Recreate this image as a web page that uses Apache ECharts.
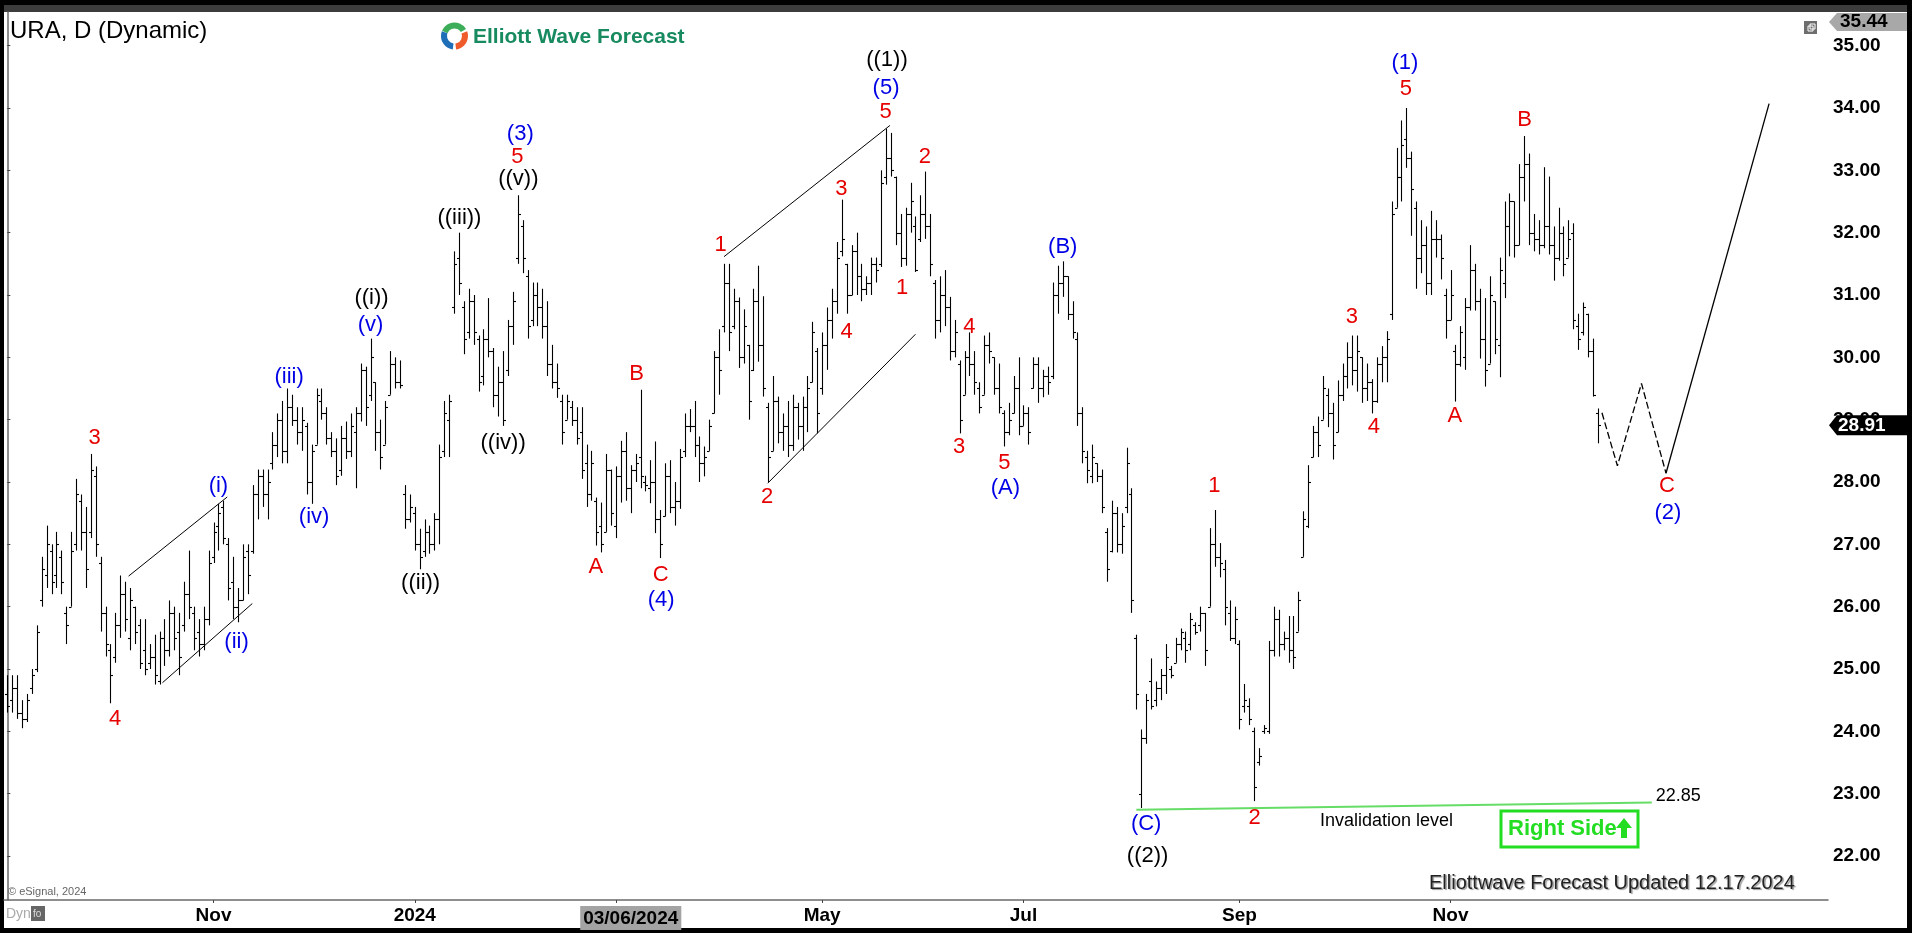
<!DOCTYPE html>
<html>
<head>
<meta charset="utf-8">
<script src="https://cdn.jsdelivr.net/npm/echarts@6/dist/echarts.min.js"></script>
<style>
html,body{margin:0;padding:0;background:#000;}
#c{width:1912px;height:933px;}
</style>
</head>
<body>
<div id="c"></div>
<script>
// ---------- DATA ----------
const startDate = '2023-09-01';
const endDate = '2024-12-16';
const holidays = ['2023-09-04','2023-11-23','2023-12-25','2024-01-01','2024-01-15','2024-02-19','2024-03-29','2024-05-27','2024-06-19','2024-07-04','2024-09-02','2024-11-28'];

const opens = [24.6,24.5,24.7,24.3,24.2,24.7,25.0,26.1,26.5,26.9,26.5,26.8,25.9,26.0,27.0,27.7,27.2,27.2,28.1,26.7,
25.9,25.3,25.2,25.7,26.2,25.5,26.0,25.7,25.3,25.1,25.2,24.8,25.5,25.3,25.9,25.6,25.7,26.2,25.9,25.6,25.4,25.8,
26.8,27.3,27.6,27.0,26.4,26.0,26.1,26.9,26.9,27.8,28.1,27.8,28.3,28.6,29.0,28.5,29.2,29.0,28.8,28.9,28.0,
28.6,29.3,29.1,28.7,28.5,28.2,28.7,28.5,28.8,29.1,29.8,29.4,29.6,28.8,28.6,29.4,29.9,29.6,27.8,27.4,
27.5,27.0,26.9,27.2,27.0,27.4,28.5,29.0,30.8,31.6,30.8,30.4,30.9,30.3,29.7,30.3,30.1,29.4,29.6,29.8,30.5,
31.6,32.1,31.3,30.6,31.0,30.8,30.5,29.9,29.6,29.3,29.0,29.2,29.0,28.8,28.3,27.8,27.7,27.3,27.2,28.2,
27.3,28.1,28.5,27.9,28.2,28.4,28.0,27.9,28.0,27.4,27.45,28.1,27.6,27.7,28.5,28.9,28.9,28.6,28.3,28.5,
29.1,30.0,30.5,31.2,30.5,30.9,30.0,30.2,29.8,30.9,30.2,29.2,28.5,29.3,28.8,28.9,28.6,29.2,28.9,29.2,29.6,30.1,
29.5,30.2,30.6,30.9,31.7,31.5,31.0,31.7,31.3,31.1,31.2,31.5,31.5,32.9,33.2,32.9,32.0,31.6,32.3,32.1,31.9,32.3,
32.1,31.2,30.6,31.0,30.8,30.1,29.9,29.4,30.0,29.9,29.5,29.4,30.2,30.0,29.5,29.1,28.8,29.1,29.5,
28.9,29.1,29.5,29.9,29.5,29.7,29.7,31.0,31.2,31.3,30.7,30.3,29.1,28.4,28.1,28.3,28.1,27.2,26.9,27.5,27.0,27.6,
27.8,25.5,23.0,23.9,24.8,24.5,24.7,24.9,25.0,25.1,25.4,25.5,25.4,25.7,25.7,25.9,26.0,27.0,26.8,26.6,25.9,25.5,
25.4,24.4,24.4,24.0,23.5,24.0,24.0,25.3,25.8,25.4,25.5,25.3,25.6,26.8,27.3,28.4,28.8,29.0,29.4,29.1,
28.8,29.4,29.7,30.0,29.8,30.0,29.5,29.6,29.3,29.9,30.0,30.7,32.4,32.9,33.5,33.2,32.4,31.6,31.8,31.2,31.9,31.9,31.0,
30.6,30.1,29.9,30.0,30.8,31.4,30.9,30.3,29.9,30.9,30.2,31.2,32.1,32.5,31.8,32.9,33.1,32.0,31.9,31.8,
32.1,31.8,31.6,32.0,31.6,32.0,30.5,30.4,30.7,30.1,29.1];

const highs = [24.9,24.9,24.9,24.5,24.6,25.0,25.7,26.8,27.3,27.0,27.2,26.9,26.0,27.2,28.05,27.8,27.6,28.45,28.25,26.8,
26.0,25.4,25.9,26.5,26.4,26.3,26.0,25.8,25.8,25.4,25.55,25.6,25.8,26.1,26.0,25.9,26.4,26.9,26.0,25.8,26.0,26.9,
27.35,27.65,27.7,27.1,26.8,26.3,27.0,27.0,27.95,28.2,28.2,28.2,28.8,29.1,29.3,29.5,29.4,29.2,29.2,28.95,28.6,
29.5,29.5,29.2,28.8,28.7,28.9,28.97,29.1,29.2,29.9,29.85,30.3,29.6,29.0,29.3,30.1,30.0,29.95,27.95,27.8,
27.6,27.25,27.4,27.3,27.5,28.6,29.3,29.4,31.7,32.0,30.9,31.1,31.0,30.35,30.45,30.95,30.15,29.85,30.1,30.6,31.05,
32.6,32.2,31.4,31.2,31.2,31.1,30.9,30.2,29.9,29.4,29.4,29.3,29.2,29.2,28.6,28.5,27.75,27.67,28.45,28.2,
28.25,28.66,28.8,28.27,28.45,29.48,28.1,28.35,28.65,27.55,28.3,28.35,28.0,28.53,29.1,29.17,29.3,28.73,28.57,29.0,
30.1,30.45,31.5,31.5,31.1,30.96,30.77,30.2,31.1,31.47,30.98,29.27,29.7,29.37,29.1,29.3,29.4,29.27,29.37,29.7,30.57,30.15,
30.4,30.8,31.1,31.85,32.53,31.5,31.8,32.0,31.5,31.3,31.6,31.6,33.0,33.67,33.6,32.9,32.3,32.4,32.8,32.26,32.6,32.98,
32.3,31.24,31.3,31.4,30.97,30.6,29.95,30.1,30.4,30.1,29.6,30.35,30.4,30.0,29.9,29.15,29.27,29.7,30.0,
29.23,29.2,30.0,30.0,29.8,29.85,31.2,31.47,31.54,31.3,30.9,30.4,29.2,28.5,28.6,28.3,28.2,27.26,27.7,27.6,27.5,28.55,
27.9,25.55,24.03,24.6,25.17,24.8,25.0,25.4,25.05,25.5,25.65,25.6,25.9,25.75,26.0,25.9,27.26,27.55,27.02,26.75,26.1,26.0,
25.46,24.76,24.53,24.06,23.73,24.1,25.45,26.0,25.95,25.6,25.85,25.85,26.24,27.53,28.27,28.9,29.05,29.7,29.5,29.27,
29.63,29.9,30.24,30.35,30.35,30.0,29.9,29.65,30.0,30.18,30.42,32.5,33.36,33.8,34.0,33.3,32.5,32.2,32.1,32.35,32.2,31.97,31.1,
31.4,30.2,30.5,30.95,31.8,31.5,31.1,30.95,31.3,30.9,31.6,32.5,32.63,32.5,33.1,33.55,33.27,32.3,32.2,33.05,
32.9,32.1,32.4,32.1,32.2,32.15,30.7,30.88,30.7,30.3,29.18];

const lows = [24.3,24.3,24.2,24.05,24.15,24.6,24.95,26.0,26.3,26.2,26.3,26.2,25.4,26.0,26.9,26.9,26.3,27.1,26.8,25.6,
25.2,24.45,25.1,25.5,25.6,25.3,25.4,25.0,24.9,25.0,24.75,24.75,25.05,25.2,25.3,24.9,25.6,25.8,25.3,25.2,25.3,25.7,
26.7,26.9,27.0,26.1,25.8,25.75,26.1,26.2,26.85,27.4,27.6,27.4,28.2,28.4,28.3,28.3,28.9,28.6,28.5,27.8,27.65,
28.6,29.0,28.6,28.4,27.95,28.1,28.37,28.4,27.9,28.97,28.9,29.3,28.5,28.2,28.6,29.4,29.5,29.5,27.25,27.35,
26.9,26.6,26.8,26.85,26.9,27.0,28.4,28.4,30.7,31.0,30.05,30.3,30.2,29.45,29.55,30.0,29.2,29.05,28.9,29.7,30.2,
31.5,31.35,30.3,30.5,30.5,30.3,29.7,29.5,29.35,28.6,29.0,28.9,28.6,28.05,27.6,27.7,26.98,26.87,27.2,27.3,
27.1,27.67,27.7,27.5,28.0,27.9,27.85,27.66,27.18,26.78,27.45,27.5,27.3,27.57,28.4,28.8,28.4,28.0,28.09,28.5,
29.1,29.4,30.4,30.1,30.45,29.83,29.9,29.0,29.78,29.93,29.37,28.0,28.5,28.62,28.5,28.4,28.5,28.68,28.5,28.8,29.6,28.78,
29.4,29.8,30.3,30.7,31.62,30.7,31.0,31.0,30.9,31.0,31.0,31.2,31.45,32.77,32.9,31.8,31.45,31.47,32.0,31.37,31.85,31.9,
31.3,30.3,30.4,30.5,29.95,30.0,28.78,29.4,29.7,29.4,29.1,29.4,29.9,29.4,29.1,28.57,28.75,29.1,28.75,
28.9,28.6,29.5,29.27,29.36,29.4,29.65,30.7,30.97,30.6,30.3,28.9,28.3,27.98,27.98,28.0,27.5,26.4,26.87,26.87,26.85,27.5,
25.9,24.35,22.77,23.8,24.35,24.4,24.5,24.6,24.85,25.1,25.3,25.1,25.3,25.55,25.6,25.05,26.0,26.64,26.47,25.7,25.45,25.4,
24.03,24.3,24.1,22.88,23.45,23.96,23.96,25.2,25.2,25.3,25.1,25.0,25.6,26.8,27.26,28.4,28.4,29.0,28.88,28.36,
28.8,29.3,29.5,29.55,29.45,29.27,29.3,29.1,29.27,29.6,29.6,30.6,32.4,32.5,33.04,31.95,31.1,31.35,31.0,31.0,31.6,31.25,30.3,
30.6,29.29,29.85,29.8,30.75,30.75,29.98,29.53,29.9,30.05,29.68,30.95,31.62,31.6,31.8,32.5,31.8,31.7,31.65,31.75,
31.65,31.23,31.55,31.3,31.6,30.45,30.12,30.35,30.0,29.37,28.62];

const closes = [24.4,24.7,24.3,24.2,24.5,24.9,25.6,26.6,27.0,26.4,27.0,26.4,25.7,26.9,27.8,27.2,26.6,28.2,27.0,25.9,
25.4,24.9,25.7,26.2,25.8,26.1,25.6,25.1,25.0,25.2,24.9,25.5,25.3,25.9,25.5,25.2,26.2,26.0,25.5,25.4,25.8,26.7,
27.2,27.5,27.1,26.3,26.0,26.1,26.8,26.5,27.8,28.1,27.8,28.0,28.6,29.0,28.5,29.2,29.0,28.8,29.0,28.0,28.5,
29.4,29.1,28.7,28.5,28.1,28.7,28.5,28.9,29.1,29.8,29.2,30.0,28.8,28.4,29.2,29.9,29.6,29.55,27.4,27.6,
27.0,26.8,27.2,27.0,27.4,28.4,29.1,29.3,31.5,31.2,30.3,30.9,30.4,29.6,30.3,30.1,29.4,29.6,29.0,30.5,30.9,
32.3,31.6,30.5,31.0,30.8,30.5,29.9,29.6,29.5,28.8,29.3,29.0,28.7,28.2,27.8,28.3,27.2,27.0,28.2,27.5,
28.1,28.5,27.9,28.2,28.3,28.1,27.95,28.0,27.4,27.0,28.1,27.6,27.7,28.4,28.9,28.9,28.6,28.3,28.4,28.9,
30.0,29.8,31.2,30.4,30.9,30.0,30.5,29.3,30.9,30.2,29.5,28.4,29.3,28.8,28.9,28.6,29.2,28.9,29.2,29.5,30.4,29.1,
30.2,30.6,30.9,31.6,31.9,31.0,31.7,31.3,31.1,31.2,31.5,31.4,32.8,33.2,33.0,32.0,31.6,32.3,32.5,31.4,32.3,32.1,
31.5,30.6,31.0,30.8,30.1,30.4,29.0,30.0,29.9,29.6,29.2,30.2,30.1,29.5,29.2,28.8,29.0,29.5,28.9,
29.1,28.8,29.9,29.5,29.7,29.6,31.0,31.2,31.3,30.7,30.4,29.1,28.5,28.2,28.4,28.1,27.6,26.6,27.5,27.0,27.3,28.3,
26.1,24.6,23.9,24.5,24.4,24.7,24.9,25.2,24.9,25.4,25.6,25.3,25.8,25.6,25.9,25.3,27.0,26.8,26.7,26.0,25.5,25.8,
24.2,24.5,24.2,23.1,23.6,24.05,25.3,25.8,25.4,25.5,25.3,25.2,26.1,27.4,28.0,28.8,28.6,29.5,29.1,28.6,
29.4,29.7,30.0,29.8,30.1,29.5,29.6,29.3,29.9,30.0,30.3,32.3,32.9,33.4,33.2,32.7,31.6,31.8,31.2,31.9,31.9,31.6,30.6,
31.0,29.9,30.4,30.8,31.4,30.9,30.3,29.8,31.0,30.3,31.4,32.1,32.5,31.8,32.9,33.1,32.0,31.9,31.8,32.1,
31.8,31.6,32.0,31.5,31.9,30.6,30.3,30.8,30.1,29.4,28.91];

// x axis tick labels
const tickLabelDates = ['2023-11-01','2024-01-02','2024-03-06','2024-05-01','2024-07-01','2024-09-03','2024-11-01'];
const tickLabelTexts = ['Nov','2024','03/06/2024','May','Jul','Sep','Nov'];
const tickMarkDates = ['2023-11-01','2024-01-02','2024-03-01','2024-05-01','2024-07-01','2024-09-03','2024-11-01'];
const priceTicks = [22,23,24,25,26,27,28,29,30,31,32,33,34,35];

// wave labels: [barIndex, price, text, colour]
const waveLabels = [
 [17.8,28.70,'3','r'],[21.95,24.20,'4','r'],
 [43.0,27.94,'(i)','b'],[46.7,25.44,'(ii)','b'],[57.4,29.68,'(iii)','b'],[62.5,27.44,'(iv)','b'],[74.0,30.52,'(v)','b'],
 [74.2,30.95,'((i))','k'],[84.2,26.38,'((ii))','k'],[92.1,32.23,'((iii))','k'],[101.0,28.63,'((iv))','k'],
 [104.5,33.59,'(3)','b'],[103.9,33.22,'5','r'],[104.1,32.86,'((v))','k'],
 [119.9,26.64,'A','r'],[128.2,29.74,'B','r'],[133.1,26.51,'C','r'],[133.2,26.11,'(4)','b'],
 [145.3,31.80,'1','r'],[154.8,27.76,'2','r'],[169.9,32.70,'3','r'],[171.0,30.40,'4','r'],
 [179.2,34.77,'((1))','k'],[179.0,34.32,'(5)','b'],[178.9,33.93,'5','r'],
 [182.3,31.12,'1','r'],[186.9,33.22,'2','r'],[193.9,28.57,'3','r'],[196.0,30.49,'4','r'],[203.1,28.30,'5','r'],[203.3,27.90,'(A)','b'],
 [215.0,31.77,'(B)','b'],[232.0,22.52,'(C)','b'],[232.3,22.00,'((2))','k'],
 [245.9,27.93,'1','r'],[254.1,22.61,'2','r'],[273.9,30.64,'3','r'],[278.4,28.89,'4','r'],
 [284.7,34.72,'(1)','b'],[284.9,34.30,'5','r'],[294.9,29.06,'A','r'],[309.1,33.81,'B','r'],
 [338.1,27.93,'C','r'],[338.3,27.50,'(2)','b']
];

// trend lines [[x,y],[x,y]]
const wedge1Upper = [[24.7,26.49],[44.8,27.76]];
const wedge1Lower = [[31.6,24.78],[49.9,26.05]];
const wedge2Upper = [[146.0,31.615],[179.8,33.72]];
const wedge2Lower = [[154.9,27.98],[185.0,30.37]];
const forecastDashed = [[324.85,29.11],[328.0,28.26],[332.9,29.58],[337.9,28.14]];
const forecastSolid = [[337.9,28.14],[358.9,34.07]];
const invalidationLine = [[230.0,22.74],[335.0,22.86]];
const invalidationLevel = 22.85;
const lastPrice = 28.91;
const topPrice = 35.44;

// ---------- BUILD ----------
function fmt(d){return d.toISOString().slice(0,10);}
const dates = [];
(function(){
  let d = new Date(startDate+'T00:00:00Z');
  const e = new Date(endDate+'T00:00:00Z');
  while(d<=e){
    const wd = d.getUTCDay();
    const s = fmt(d);
    if(wd!==0 && wd!==6 && holidays.indexOf(s)<0) dates.push(s);
    d = new Date(d.getTime()+86400000);
  }
})();
const ohlc = dates.map((d,i)=>[i, opens[i], highs[i], lows[i], closes[i]]);
const labelIdx = tickLabelDates.map(d=>dates.indexOf(d));
const markIdx = tickMarkDates.map(d=>dates.indexOf(d));

const colourMap = {r:'#e60000', b:'#0000e6', k:'#000000'};
const FONT = '"Liberation Sans", Arial, sans-serif';

const chart = echarts.init(document.getElementById('c'), null, {renderer:'canvas'});

const option = {
  animation:false,
  backgroundColor:'#000',
  grid:{left:4, right:84, top:12, bottom:33, containLabel:false},
  xAxis:{
    type:'value', min:-0.68, max:370.9,
    axisLine:{show:true, onZero:false, lineStyle:{color:'#6a6a6a', width:1.5}},
    axisTick:{show:true, customValues:markIdx, length:3, lineStyle:{color:'#444'}},
    axisLabel:{
      show:true, customValues:labelIdx, margin:6,
      color:'#000', fontSize:19, fontWeight:'bold', fontFamily:FONT,
      formatter:function(v){
        const k = labelIdx.indexOf(Math.round(v));
        if(k<0) return '';
        const t = tickLabelTexts[k];
        if(t.indexOf('/')>=0) return '{hl|'+t+'}';
        return t;
      },
      rich:{hl:{backgroundColor:'#a3a3a3', color:'#000', fontSize:19, fontWeight:'bold', fontFamily:FONT, padding:[3,3,2,3]}}
    },
    splitLine:{show:false}
  },
  yAxis:{
    type:'value', position:'right', min:21.294, max:35.54,
    axisLine:{show:true, lineStyle:{color:'#6a6a6a', width:1.5}},
    axisTick:{show:true, customValues:priceTicks, length:3, lineStyle:{color:'#444'}},
    axisLabel:{show:true, customValues:priceTicks, margin:5, color:'#000', fontSize:19, fontWeight:'bold', fontFamily:FONT,
      formatter:function(v){return v.toFixed(2);}},
    splitLine:{show:false}
  },
  series:[
    {
      type:'custom', name:'URA', silent:true, clip:true,
      encode:{x:0, y:[1,2,3,4]},
      data: ohlc,
      renderItem:function(params, api){
        const x = api.value(0);
        const pO = api.coord([x, api.value(1)]);
        const pH = api.coord([x, api.value(2)]);
        const pL = api.coord([x, api.value(3)]);
        const pC = api.coord([x, api.value(4)]);
        const px = Math.round(pH[0])+0.5;
        const yo = Math.round(pO[1])+0.5, yc = Math.round(pC[1])+0.5;
        const st = {stroke:'#000', lineWidth:1.1};
        return {type:'group', children:[
          {type:'line', shape:{x1:px, y1:pH[1], x2:px, y2:pL[1]}, style:st},
          {type:'line', shape:{x1:px-2.5, y1:yo, x2:px, y2:yo}, style:st},
          {type:'line', shape:{x1:px, y1:yc, x2:px+2.5, y2:yc}, style:st}
        ]};
      }
    },
    {type:'line', data:wedge1Upper, symbol:'none', silent:true, lineStyle:{color:'#000', width:1}},
    {type:'line', data:wedge1Lower, symbol:'none', silent:true, lineStyle:{color:'#000', width:1}},
    {type:'line', data:wedge2Upper, symbol:'none', silent:true, lineStyle:{color:'#000', width:1}},
    {type:'line', data:wedge2Lower, symbol:'none', silent:true, lineStyle:{color:'#000', width:1}},
    {type:'line', data:forecastDashed, symbol:'none', silent:true, lineStyle:{color:'#000', width:1.3, type:[7,3]}},
    {type:'line', data:forecastSolid, symbol:'none', silent:true, lineStyle:{color:'#000', width:1.3}},
    {type:'line', data:invalidationLine, symbol:'none', silent:true, lineStyle:{color:'#66dd66', width:2}},
    {
      type:'custom', silent:true, clip:false,
      data: waveLabels.map(l=>[l[0], l[1]]),
      renderItem:function(params, api){
        const L = waveLabels[params.dataIndex];
        const p = api.coord([L[0], L[1]]);
        return {type:'text', x:p[0], y:p[1], style:{text:L[2], fill:colourMap[L[3]], fontSize:22, fontFamily:FONT, align:'center', verticalAlign:'middle'}};
      }
    },
    {
      type:'custom', silent:true, clip:false,
      data:[[invalidationLine[1][0], invalidationLevel]],
      renderItem:function(params, api){
        const p = api.coord([api.value(0), api.value(1)]);
        return {type:'text', x:p[0]+4, y:p[1]-7, style:{text:invalidationLevel.toFixed(2), fill:'#000', fontSize:18, fontFamily:FONT, align:'left', verticalAlign:'middle'}};
      }
    }
  ]
};
chart.setOption(option);

const yLast = chart.convertToPixel({yAxisIndex:0}, lastPrice);
const yTop = Math.max(chart.convertToPixel({yAxisIndex:0}, topPrice), 22);

chart.setOption({graphic:[
  // frame
  {type:'rect', shape:{x:4, y:12, width:1903, height:916}, style:{fill:'#fff'}, z:-10, silent:true},
  {type:'rect', shape:{x:4, y:5, width:1903, height:7}, style:{fill:'#3c3c3c'}, z:-10, silent:true},
  // title
  {type:'text', x:10, y:31, style:{text:'URA, D (Dynamic)', fill:'#000', fontSize:24, fontFamily:FONT, verticalAlign:'middle'}},
  // logo
  {type:'arc', shape:{cx:454.5, cy:36, r:10.5, startAngle:-2.75, endAngle:-0.55}, style:{stroke:'#3cae5a', lineWidth:6, fill:null}},
  {type:'arc', shape:{cx:454.5, cy:36, r:10.5, startAngle:-0.35, endAngle:1.45}, style:{stroke:'#ef5b2b', lineWidth:6, fill:null}},
  {type:'arc', shape:{cx:454.5, cy:36, r:10.5, startAngle:1.7, endAngle:3.5}, style:{stroke:'#1f6fb8', lineWidth:6, fill:null}},
  {type:'text', x:473, y:37, style:{text:'Elliott Wave Forecast', fill:'#178a5f', fontSize:21, fontWeight:'bold', fontFamily:FONT, verticalAlign:'middle'}},
  // top-right icon
  {type:'rect', shape:{x:1804, y:21, width:13, height:13}, style:{fill:'#6e6e6e'}},
  {type:'rect', shape:{x:1808, y:26, width:5, height:5}, style:{fill:null, stroke:'#fff', lineWidth:1}},
  {type:'rect', shape:{x:1810, y:24, width:5, height:5}, style:{fill:null, stroke:'#fff', lineWidth:1}},
  // price tags
  {type:'polygon', shape:{points:[[1829,yTop],[1837,yTop-9],[1907,yTop-9],[1907,yTop+9],[1837,yTop+9]]}, style:{fill:'#a8a8a8'}, z:50},
  {type:'text', x:1840, y:yTop, z:51, style:{text:topPrice.toFixed(2), fill:'#000', fontSize:19, fontWeight:'bold', fontFamily:FONT, verticalAlign:'middle'}},
  {type:'polygon', shape:{points:[[1829,yLast],[1837,yLast-10],[1907,yLast-10],[1907,yLast+10],[1837,yLast+10]]}, style:{fill:'#000'}, z:50},
  {type:'text', x:1838, y:yLast, z:51, style:{text:lastPrice.toFixed(2), fill:'#fff', fontSize:19, fontWeight:'bold', fontFamily:FONT, verticalAlign:'middle'}},
  // annotations
  {type:'text', x:1320, y:821, style:{text:'Invalidation level', fill:'#000', fontSize:18, fontFamily:FONT, verticalAlign:'middle'}},
  {type:'rect', shape:{x:1501, y:811, width:137, height:36}, style:{fill:null, stroke:'#22dd22', lineWidth:3}},
  {type:'text', x:1508, y:829, style:{text:'Right Side', fill:'#22dd22', fontSize:22, fontWeight:'bold', fontFamily:FONT, verticalAlign:'middle'}},
  {type:'polygon', shape:{points:[[1624,818],[1632,828],[1627,828],[1627,838],[1621,838],[1621,828],[1616,828]]}, style:{fill:'#22dd22'}},
  {type:'text', x:1429, y:883, style:{text:'Elliottwave Forecast Updated 12.17.2024', fill:'#222', fontSize:20, fontFamily:FONT, verticalAlign:'middle', textShadowColor:'#9a9a9a', textShadowOffsetX:1.5, textShadowOffsetY:1.5, textShadowBlur:1}},
  {type:'text', x:8, y:892, style:{text:'© eSignal, 2024', fill:'#666', fontSize:11, fontFamily:FONT, verticalAlign:'middle'}},
  {type:'text', x:6, y:914, style:{text:'Dyn', fill:'#aaa', fontSize:14, fontFamily:FONT, verticalAlign:'middle'}},
  {type:'rect', shape:{x:31, y:906, width:14, height:15}, style:{fill:'#666'}},
  {type:'text', x:33, y:914, style:{text:'fo', fill:'#ddd', fontSize:10, fontFamily:FONT, verticalAlign:'middle'}}
]});
</script>
</body>
</html>
